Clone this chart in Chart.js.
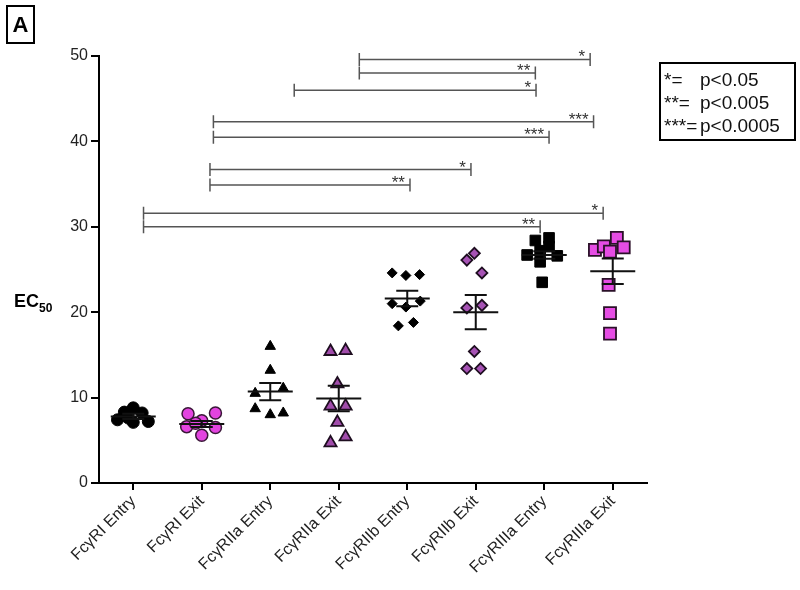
<!DOCTYPE html>
<html><head><meta charset="utf-8">
<script src="https://cdn.jsdelivr.net/npm/chart.js@4/dist/chart.umd.min.js"></script>
<style>html,body{margin:0;padding:0;background:#fff}#wrap{width:800px;height:590px;position:relative}</style>
</head><body><div id="wrap"><canvas id="c" width="800" height="590"></canvas></div>
<script>
// ---- data ----
const categories = ['FcγRI Entry','FcγRI Exit','FcγRIIa Entry','FcγRIIa Exit','FcγRIIb Entry','FcγRIIb Exit','FcγRIIIa Entry','FcγRIIIa Exit'];
const yTicks = [0, 10, 20, 30, 40, 50];

const riEntry    = [8.8, 8.3, 8.2, 7.4, 7.1, 7.2, 7.6];
const riExit     = [8.1, 8.2, 7.3, 6.6, 6.5, 5.6, 7.0];
const riiaEntry  = [16.0, 13.2, 11.1, 10.5, 8.7, 8.0, 8.2];
const riiaExit   = [15.4, 15.5, 11.6, 9.0, 9.0, 7.1, 5.4, 4.7];
const riibEntry  = [24.6, 24.3, 24.4, 21.0, 20.6, 21.3, 18.4, 18.8];
const riibExit   = [26.1, 26.9, 24.6, 20.5, 20.8, 15.4, 13.4, 13.4];
const riiiaEntry = [28.4, 28.7, 27.7, 26.7, 26.6, 27.2, 25.9, 23.5];
const riiiaExit  = [27.3, 27.7, 28.7, 27.6, 27.1, 23.2, 19.9, 17.5];

const groupMeans = [7.8, 6.9, 10.7, 9.9, 21.6, 20.0, 26.7, 24.8];
const groupSEM   = [0.3, 0.35, 1.0, 1.5, 0.9, 2.0, 0.45, 1.5];

// significance brackets (category units / EC50 units)
const sigFrom  = [3.30, 3.30, 2.35, 1.17, 1.17, 1.12, 1.12, 0.15, 0.15];
const sigTo    = [6.67, 5.87, 5.88, 6.72, 6.07, 4.93, 4.04, 6.86, 5.94];
const sigLevel = [49.6, 48.0, 46.0, 42.3, 40.5, 36.7, 34.9, 31.6, 30.0];
const sigLabel = ['*', '**', '*', '***', '***', '*', '**', '*', '**'];

const legendStars = ['*=', '**=', '***='];
const legendP     = ['p<0.05', 'p<0.005', 'p<0.0005'];

// ---- presentation ----
const groupValues = [riEntry, riExit, riiaEntry, riiaExit, riibEntry, riibExit, riiiaEntry, riiiaExit];
const spread = [
  [0, -0.13, 0.13, -0.23, 0, 0.22, -0.07],
  [-0.2, 0.2, 0, -0.22, 0.2, 0, -0.09],
  [0, 0, 0.19, -0.22, -0.22, 0, 0.19],
  [-0.12, 0.1, -0.02, -0.12, 0.1, -0.02, 0.1, -0.12],
  [-0.22, -0.02, 0.18, -0.22, -0.02, 0.19, -0.13, 0.09],
  [-0.13, -0.02, 0.09, -0.13, 0.09, -0.02, -0.13, 0.07],
  [-0.13, 0.07, 0.07, -0.25, 0.19, -0.06, -0.06, -0.03],
  [-0.26, -0.13, 0.06, 0.16, -0.04, -0.06, -0.04, -0.04]
];
const styles = [
  {pointStyle:'circle',   r:6,   bg:'#000000', bd:'#000000', bw:1},
  {pointStyle:'circle',   r:6,   bg:'#e344e0', bd:'#3a1838', bw:1.5},
  {pointStyle:'triangle', r:6,   bg:'#000000', bd:'#000000', bw:1},
  {pointStyle:'triangle', r:7,   bg:'#a14cab', bd:'#1e0e20', bw:1.8},
  {pointStyle:'rectRot',  r:5,   bg:'#000000', bd:'#000000', bw:1},
  {pointStyle:'rectRot',  r:5.5, bg:'#a652b4', bd:'#1e0e20', bw:1.8},
  {pointStyle:'rect',     r:7.5, bg:'#000000', bd:'#000000', bw:1},
  {pointStyle:'rect',     r:8.5, bg:'#e64ce4', bd:'#2a1028', bw:1.8}
];

const datasets = groupValues.map((vals, i) => ({
  label: categories[i],
  data: vals.map((v, j) => ({x: i + spread[i][j], y: v})),
  pointStyle: styles[i].pointStyle,
  pointRadius: styles[i].r,
  backgroundColor: styles[i].bg,
  borderColor: styles[i].bd,
  borderWidth: styles[i].bw,
  showLine: false
}));

const FONT = '"Liberation Sans", Arial, Helvetica, sans-serif';

const overlay = {
  id: 'overlay',
  afterDatasetsDraw(chart) {
    const {ctx, scales: {x, y}} = chart;
    ctx.save();
    // mean and SEM
    ctx.strokeStyle = '#111';
    ctx.lineWidth = 2;
    groupMeans.forEach((m, i) => {
      const cx = x.getPixelForValue(i);
      const ym = y.getPixelForValue(m);
      const yt = y.getPixelForValue(m + groupSEM[i]);
      const yb = y.getPixelForValue(m - groupSEM[i]);
      ctx.beginPath();
      ctx.moveTo(cx - 22.5, ym); ctx.lineTo(cx + 22.5, ym);
      ctx.moveTo(cx, yt); ctx.lineTo(cx, yb);
      ctx.moveTo(cx - 11, yt); ctx.lineTo(cx + 11, yt);
      ctx.moveTo(cx - 11, yb); ctx.lineTo(cx + 11, yb);
      ctx.stroke();
    });
    // significance brackets
    ctx.strokeStyle = '#555';
    ctx.lineWidth = 1.5;
    ctx.fillStyle = '#333';
    ctx.font = '17px ' + FONT;
    ctx.textAlign = 'right';
    ctx.textBaseline = 'alphabetic';
    sigLevel.forEach((lv, k) => {
      const x1 = x.getPixelForValue(sigFrom[k]);
      const x2 = x.getPixelForValue(sigTo[k]);
      const yy = y.getPixelForValue(lv);
      ctx.beginPath();
      ctx.moveTo(x1, yy); ctx.lineTo(x2, yy);
      ctx.moveTo(x1, yy - 6.5); ctx.lineTo(x1, yy + 6.5);
      ctx.moveTo(x2, yy - 6.5); ctx.lineTo(x2, yy + 6.5);
      ctx.stroke();
      ctx.fillText(sigLabel[k], x2 - 5, yy + 3);
    });
    ctx.restore();
  },
  afterDraw(chart) {
    const ctx = chart.ctx;
    ctx.save();
    // panel letter
    ctx.strokeStyle = '#000'; ctx.lineWidth = 2;
    ctx.strokeRect(7, 6, 27, 37);
    ctx.fillStyle = '#000';
    ctx.font = 'bold 22px ' + FONT;
    ctx.textAlign = 'center'; ctx.textBaseline = 'middle';
    ctx.fillText('A', 20.5, 25.5);
    // y title EC50
    ctx.textAlign = 'left'; ctx.textBaseline = 'alphabetic';
    ctx.font = 'bold 18px ' + FONT;
    ctx.fillText('EC', 14, 307);
    const w = ctx.measureText('EC').width;
    ctx.font = 'bold 12px ' + FONT;
    ctx.fillText('50', 14 + w, 312);
    // significance key
    ctx.lineWidth = 2;
    ctx.strokeRect(660, 63, 135, 77);
    ctx.font = '19px ' + FONT;
    ctx.fillStyle = '#111';
    legendStars.forEach((s, k) => {
      const by = 86 + k * 23;
      ctx.fillText(s, 664, by);
      ctx.fillText(legendP[k], 700, by);
    });
    ctx.restore();
  }
};

new Chart(document.getElementById('c'), {
  type: 'scatter',
  data: { datasets },
  options: {
    responsive: false,
    animation: false,
    devicePixelRatio: 1,
    layout: { padding: { top: 56, right: 153, bottom: 0, left: 0 } },
    plugins: { legend: { display: false }, tooltip: { enabled: false } },
    scales: {
      x: {
        type: 'linear',
        min: -0.5, max: 7.5,
        afterBuildTicks(scale) { scale.ticks = categories.map((_, i) => ({ value: i })); },
        afterFit(scale) { scale.height = 107; },
        ticks: {
          callback: (v) => categories[v] ?? '',
          autoSkip: false,
          minRotation: 45, maxRotation: 45,
          color: '#222',
          padding: 2,
          font: { size: 16, family: FONT }
        },
        grid: { drawOnChartArea: false, drawTicks: true, tickLength: 7, color: '#000', lineWidth: 2 },
        border: { display: true, color: '#000', width: 2 }
      },
      y: {
        type: 'linear',
        min: 0, max: 50,
        afterBuildTicks(scale) { scale.ticks = yTicks.map(v => ({ value: v })); },
        afterFit(scale) { scale.width = 99; },
        ticks: {
          color: '#222',
          padding: 3,
          font: { size: 16, family: FONT }
        },
        grid: { drawOnChartArea: false, drawTicks: true, tickLength: 8, color: '#000', lineWidth: 2 },
        border: { display: true, color: '#000', width: 2 }
      }
    }
  },
  plugins: [overlay]
});
</script>
</body></html>
